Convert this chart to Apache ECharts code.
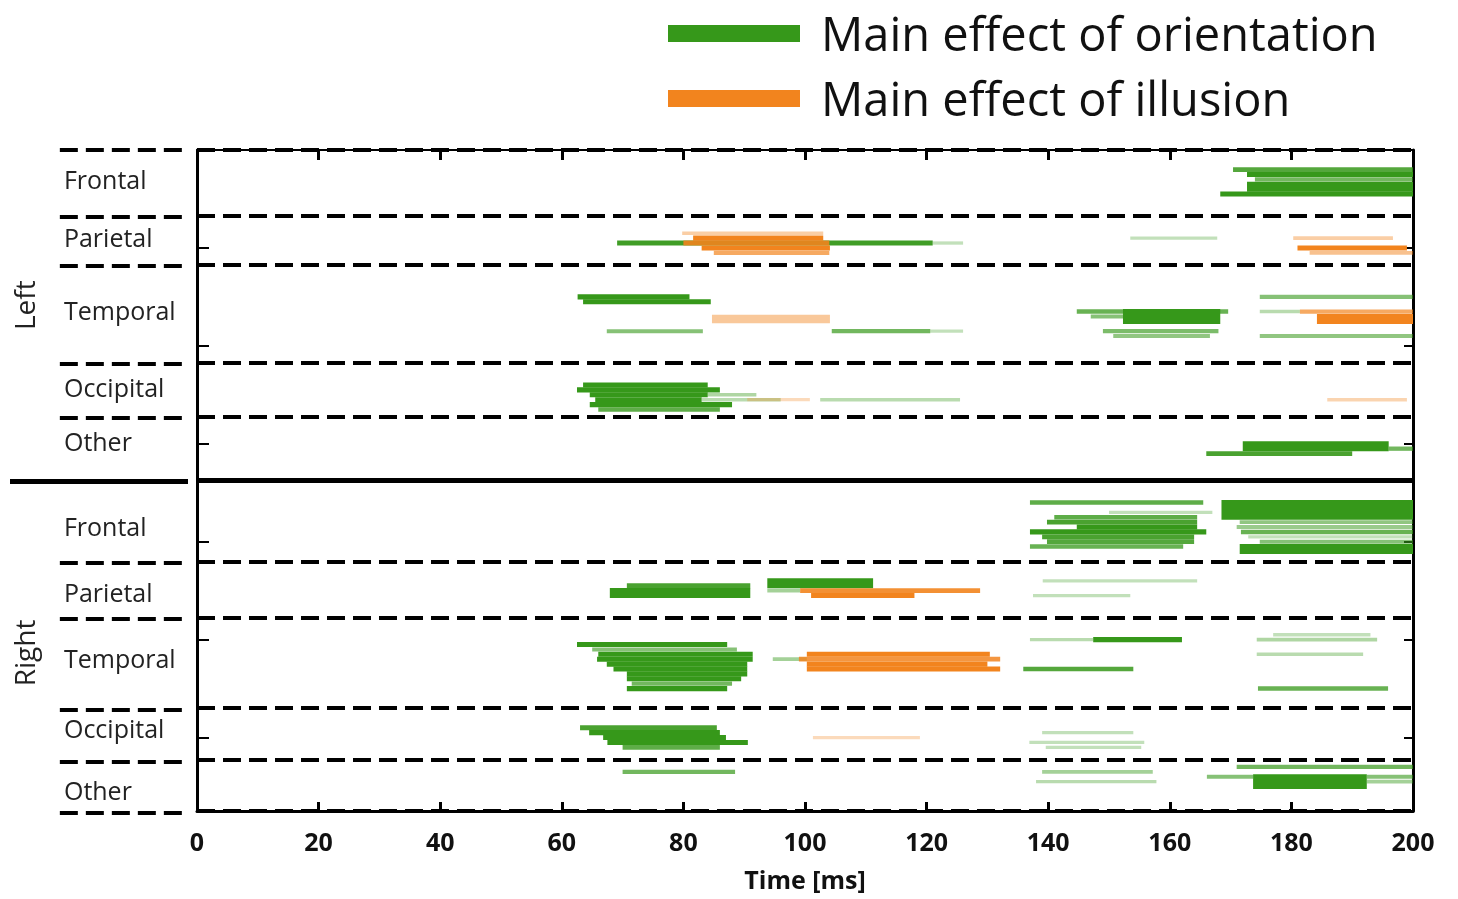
<!DOCTYPE html>
<html>
<head>
<meta charset="utf-8">
<title>Main effects over time</title>
<script src="https://cdn.jsdelivr.net/npm/echarts@6/dist/echarts.min.js"></script>
<style>
  html, body { margin: 0; padding: 0; background: #fff; }
  #effect-time { width: 1458px; height: 899px; }
</style>
</head>
<body>
<div id="effect-time"></div>
<script>
// rows = sensor channels, counted from the top of the plot
var channelCount = 135;
var timeMin = 0;
var timeMax = 200;
var timeStep = 20;

var hemispheres = ["Left", "Right"];
var hemisphereRows = [31.6, 102.4];
var regionNames = ["Frontal", "Parietal", "Temporal", "Occipital", "Other",
                   "Frontal", "Parietal", "Temporal", "Occipital", "Other"];
var regionLabelRows = [6.4, 18.3, 33.2, 48.9, 59.9, 77.2, 90.6, 104, 118.3, 130.9];
var regionEdges = [0, 13.5, 23.5, 43.5, 54.5, 84, 95.5, 114, 124.5, 135];
var hemisphereEdge = 67.5;

// [first channel, last channel, start ms, end ms, strength]
var orientation = [
  // left frontal
  [4, 4, 170.4, 200, 0.85],
  [5, 5, 172.7, 200, 1],
  [6, 6, 174, 200, 0.7],
  [7, 8, 172.7, 200, 1],
  [9, 9, 168.3, 200, 1],
  // left parietal
  [19, 19, 69.1, 121, 0.95],
  [19, 19, 121, 126, 0.3],
  [18, 18, 153.5, 167.8, 0.3],
  // left temporal
  [30, 30, 62.6, 81, 1],
  [31, 31, 63.5, 84.5, 1],
  [37, 37, 67.4, 83.2, 0.6],
  [37, 37, 104.4, 120.6, 0.7],
  [37, 37, 120.6, 126, 0.3],
  [33, 33, 144.7, 169.6, 0.75],
  [34, 34, 147, 166, 0.6],
  [33, 35, 152.3, 168.3, 1],
  [37, 37, 149, 168, 0.65],
  [38, 38, 150.7, 166.6, 0.55],
  [30, 30, 174.8, 200, 0.6],
  [33, 33, 174.8, 181.4, 0.35],
  [38, 38, 174.8, 200, 0.55],
  // left occipital
  [48, 48, 63.5, 84, 1],
  [49, 49, 62.5, 86, 1],
  [50, 50, 64.6, 84, 1],
  [51, 51, 65.5, 83, 1],
  [52, 52, 64.6, 88, 1],
  [53, 53, 66, 86, 0.8],
  [50, 50, 84, 92, 0.4],
  [51, 51, 83, 96, 0.35],
  [51, 51, 102.5, 125.5, 0.35],
  // left other
  [60, 61, 172, 196, 1],
  [61, 61, 196, 200, 0.7],
  [62, 62, 166, 190, 0.9],
  // right frontal
  [72, 72, 137, 165.5, 0.8],
  [72, 75, 168.5, 200, 1],
  [76, 76, 171.5, 200, 0.55],
  [77, 77, 171, 200, 0.5],
  [78, 78, 171.7, 200, 0.75],
  [79, 79, 172.9, 200, 0.3],
  [80, 80, 174.8, 200, 0.6],
  [81, 82, 171.5, 200, 1],
  [74, 74, 150, 167, 0.3],
  [75, 75, 141, 164.5, 0.8],
  [76, 76, 139.8, 164.5, 0.9],
  [77, 77, 144.7, 164.5, 1],
  [78, 78, 137, 166, 1],
  [79, 79, 139, 164, 0.9],
  [80, 80, 139.8, 164, 0.85],
  [81, 81, 137, 162.2, 0.75],
  // right parietal
  [89, 89, 70.7, 91, 0.9],
  [90, 91, 67.9, 91, 1],
  [88, 89, 93.8, 111.2, 1],
  [90, 90, 93.8, 99.2, 0.45],
  [88, 88, 139.1, 164.5, 0.3],
  [91, 91, 137.5, 153.5, 0.3],
  // right temporal
  [101, 101, 62.5, 87.2, 1],
  [102, 102, 65, 88.8, 0.6],
  [103, 103, 66, 91.4, 1],
  [104, 104, 65.8, 91.4, 1],
  [105, 105, 67.4, 90.5, 1],
  [106, 106, 68.5, 90.5, 1],
  [107, 107, 70.7, 90.5, 1],
  [108, 108, 70.7, 89.5, 1],
  [109, 109, 71.5, 88, 0.7],
  [110, 110, 70.7, 87.2, 1],
  [104, 104, 94.7, 100.3, 0.45],
  [100, 100, 137, 147.4, 0.35],
  [100, 100, 147.4, 162, 1],
  [106, 106, 135.9, 154, 0.85],
  [99, 99, 177, 193, 0.3],
  [100, 100, 174.3, 194.1, 0.4],
  [103, 103, 174.3, 191.8, 0.35],
  [110, 110, 174.5, 195.9, 0.75],
  // right occipital
  [118, 118, 63, 85.5, 0.9],
  [119, 119, 64.5, 86, 1],
  [120, 120, 66.8, 87, 1],
  [121, 121, 67.5, 90.6, 1],
  [122, 122, 70, 86, 0.8],
  [119, 119, 139, 154, 0.3],
  [121, 121, 136.9, 155.8, 0.3],
  [122, 122, 139.6, 155.3, 0.3],
  // right other
  [127, 127, 70, 88.5, 0.7],
  [127, 127, 139, 157.2, 0.45],
  [129, 129, 138, 157.8, 0.35],
  [126, 126, 171, 200, 0.7],
  [128, 128, 166.1, 173.7, 0.6],
  [128, 130, 173.7, 192.4, 1],
  [129, 129, 192.4, 200, 0.45],
  [128, 128, 192.4, 200, 0.6]
];

var illusion = [
  // left parietal
  [17, 17, 79.8, 103, 0.4],
  [18, 18, 81.6, 103, 1],
  [19, 19, 80, 104, 0.9],
  [20, 20, 83, 104.1, 1],
  [21, 21, 85, 104, 0.7],
  [18, 18, 180.3, 196.7, 0.4],
  [20, 20, 181, 199, 1],
  [21, 21, 183, 200, 0.5],
  // left temporal
  [34, 35, 84.7, 104.1, 0.45],
  [33, 33, 181.4, 200, 0.7],
  [34, 35, 184.2, 200, 1],
  // left occipital
  [51, 51, 90.5, 100.8, 0.3],
  [51, 51, 185.9, 199, 0.35],
  // right parietal
  [90, 90, 99.2, 128.8, 0.9],
  [91, 91, 101, 118, 1],
  // right temporal
  [103, 103, 100.3, 130.4, 1],
  [104, 104, 99, 132.1, 0.85],
  [105, 105, 100.3, 130, 1],
  [106, 106, 100.3, 132.1, 1],
  // right occipital
  [120, 120, 101.3, 118.9, 0.3]
];

var GREEN = "#36981a";
var ORANGE = "#f2841e";
var FONT = "Open Sans";

var chart = echarts.init(document.getElementById("effect-time"));

// weak effects are drawn thinner and paler, strong ones fill the whole row
function segmentRenderer(color) {
  return function (params, api) {
    var s = api.value(4);
    var half = 0.26 + 0.26 * s;
    var a = api.coord([api.value(2), api.value(0) - half]);
    var b = api.coord([api.value(3), api.value(1) + half]);
    return {
      type: "rect",
      shape: {
        x: a[0],
        y: Math.min(a[1], b[1]),
        width: b[0] - a[0],
        height: Math.abs(b[1] - a[1])
      },
      style: { fill: color, opacity: s }
    };
  };
}

// label column on the left: region names + hemisphere names
var labelItems = regionNames.map(function (name, i) {
  return [0.303, regionLabelRows[i], 0];
}).concat(hemispheres.map(function (name, i) {
  return [0.096, hemisphereRows[i], 1];
}));
var labelTexts = regionNames.concat(hemispheres);

var dashStyle = { color: "#000", width: 4, type: [18, 8] };

var plotLines = regionEdges.map(function (v) {
  return { yAxis: v, lineStyle: dashStyle };
});
plotLines.push({ yAxis: hemisphereEdge, lineStyle: { color: "#000", width: 5, type: "solid" } });

var sideLines = regionEdges.map(function (v) {
  return [{ coord: [0.28, v], lineStyle: dashStyle }, { coord: [0.98, v] }];
});
sideLines.push([{ coord: [0, hemisphereEdge], lineStyle: { color: "#000", width: 5, type: "solid" } },
                { coord: [1, hemisphereEdge] }]);

var yBase = {
  type: "value",
  min: 0,
  max: channelCount,
  interval: 20,
  inverse: true,
  splitLine: { show: false },
  axisLabel: { show: false }
};

var option = {
  backgroundColor: "#fff",
  animation: false,
  legend: {
    data: [
      { name: "Main effect of orientation", icon: "rect" },
      { name: "Main effect of illusion", icon: "rect" }
    ],
    orient: "vertical",
    left: 663,
    top: 9,
    itemWidth: 132,
    itemHeight: 17,
    itemGap: 18,
    selectedMode: false,
    formatter: function (name) {
      return "{t|" + name + "}";
    },
    textStyle: {
      fontFamily: FONT, fontSize: 47, color: "#111", padding: [0, 0, 0, 16],
      rich: { t: { fontFamily: FONT, fontSize: 47, color: "#111", padding: [8, 0, 0, 0] } }
    }
  },
  grid: [
    { left: 10, width: 178, top: 150, bottom: 86 },
    { left: 197, right: 45, top: 150, bottom: 86 }
  ],
  xAxis: [
    { gridIndex: 0, type: "value", min: 0, max: 1, show: false },
    {
      gridIndex: 1, type: "value", min: timeMin, max: timeMax, interval: timeStep,
      position: "bottom",
      name: "Time [ms]", nameLocation: "middle", nameGap: 58,
      nameTextStyle: { fontFamily: FONT, fontSize: 25, fontWeight: "bold", color: "#111" },
      axisLine: { onZero: false, lineStyle: { color: "#000", width: 3 } },
      axisTick: { inside: true, length: 9, lineStyle: { color: "#000", width: 3 } },
      axisLabel: { fontFamily: FONT, fontSize: 25, fontWeight: "bold", color: "#111", margin: 20 },
      splitLine: { show: false }
    },
    {
      gridIndex: 1, type: "value", min: timeMin, max: timeMax, interval: timeStep,
      position: "top",
      axisLine: { onZero: false, lineStyle: { color: "#000", width: 2 } },
      axisTick: { inside: true, length: 10, lineStyle: { color: "#000", width: 3 } },
      axisLabel: { show: false },
      splitLine: { show: false }
    }
  ],
  yAxis: [
    { gridIndex: 0, type: "value", min: 0, max: channelCount, inverse: true, show: false },
    Object.assign({}, yBase, {
      gridIndex: 1, position: "left",
      axisLine: { onZero: false, lineStyle: { color: "#000", width: 3 } },
      axisTick: { inside: true, length: 12, lineStyle: { color: "#000", width: 2 } }
    }),
    Object.assign({}, yBase, {
      gridIndex: 1, position: "right",
      axisLine: { onZero: false, lineStyle: { color: "#000", width: 3 } },
      axisTick: { inside: true, length: 9, lineStyle: { color: "#000", width: 2 } }
    })
  ],
  series: [
    {
      name: "Main effect of orientation",
      type: "custom",
      xAxisIndex: 1,
      yAxisIndex: 1,
      clip: true,
      itemStyle: { color: GREEN },
      encode: { x: [2, 3], y: [0, 1] },
      renderItem: segmentRenderer(GREEN),
      data: orientation,
      z: 2
    },
    {
      name: "Main effect of illusion",
      type: "custom",
      xAxisIndex: 1,
      yAxisIndex: 1,
      clip: true,
      itemStyle: { color: ORANGE },
      encode: { x: [2, 3], y: [0, 1] },
      renderItem: segmentRenderer(ORANGE),
      data: illusion,
      z: 3
    },
    {
      // region separators across the plot
      type: "line",
      xAxisIndex: 1,
      yAxisIndex: 1,
      data: [],
      silent: true,
      z: 5,
      markLine: {
        silent: true,
        symbol: "none",
        label: { show: false },
        data: plotLines
      }
    },
    {
      // label column
      type: "custom",
      xAxisIndex: 0,
      yAxisIndex: 0,
      silent: true,
      data: labelItems,
      renderItem: function (params, api) {
        var p = api.coord([api.value(0), api.value(1)]);
        var isHemi = api.value(2) === 1;
        return {
          type: "text",
          x: p[0],
          y: p[1],
          rotation: isHemi ? Math.PI / 2 : 0,
          style: {
            text: labelTexts[params.dataIndex],
            fill: "#222",
            font: (isHemi ? 28 : 25) + "px '" + FONT + "'",
            align: isHemi ? "center" : "left",
            verticalAlign: "middle"
          }
        };
      },
      markLine: {
        silent: true,
        symbol: "none",
        label: { show: false },
        data: sideLines
      }
    }
  ]
};

chart.setOption(option);
</script>
</body>
</html>
